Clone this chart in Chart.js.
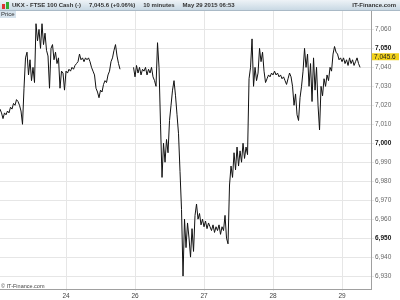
<!DOCTYPE html>
<html>
<head>
<meta charset="utf-8">
<script src="https://cdn.jsdelivr.net/npm/chart.js@4"></script>
<style>
    body { margin: 0; background: #fff; }
    #wrap { position: relative; width: 400px; height: 300px; overflow: hidden; font-family: "Liberation Sans", Arial, sans-serif; }
    #entete {
        position: absolute; left: 0; top: 0; width: 400px; height: 10px;
        background: linear-gradient(#eef3f7, #c9d9e4); border-bottom: 1px solid #a9b9c6;
        font-size: 6px; font-weight: bold; color: #333; line-height: 10px; white-space: nowrap;
    }
    #entete .gauche { position: absolute; left: 12px; top: 0; }
    #entete .gauche span { margin-right: 8px; }
    #entete .droite { position: absolute; right: 4px; top: 0; }
    #icone { position: absolute; left: 2px; top: 2px; width: 8px; height: 7px; }
    #icone span { position: absolute; bottom: 0; width: 3px; }
    #prixBox {
        position: absolute; left: 0; top: 11px; height: 7px; padding: 0 1px;
        background: #d5e2ec; font-size: 6px; line-height: 7px; color: #333;
    }
    #copyright { position: absolute; left: 1px; top: 283px; font-size: 5.5px; color: #444; }
</style>
</head>
<body>
<div id="wrap">
    <canvas id="graficoPreco" width="400" height="300"></canvas>
    <div id="entete">
        <div id="icone"><span style="left:0;height:5px;background:#d33;"></span><span style="left:4px;height:7px;background:#3a3;"></span></div>
        <div class="gauche"><span>UKX - FTSE 100 Cash (-)</span><span>7,045.6 (+0.06%)</span><span>10 minutes</span><span>May 29 2015 06:53</span></div>
        <div class="droite">IT-Finance.com</div>
    </div>
    <div id="prixBox">Price</div>
    <div id="copyright">© IT-Finance.com</div>
</div>
<script>
// 10-minute closes, sampled evenly; null = market closed
const precos = [
    7018, 7016, 7013, 7016, 7015, 7017, 7016, 7019, 7018, 7021,
    7020, 7023, 7022, 7020, 7017, 7010, 7029, 7045, 7048, 7036,
    7044, 7033, 7040, 7032, 7063, 7054, 7060, 7050, 7063, 7052,
    7058, 7049, 7046, 7029, 7050, 7052, 7044, 7048, 7042, 7045,
    7029, 7038, 7037, 7028, 7038, 7037, 7039, 7038, 7040, 7039,
    7041, 7042, 7043, 7047, 7044, 7045, 7043, 7045, 7044, 7045,
    7043, 7040, 7038, 7036, 7029, 7027, 7024, 7028, 7027, 7031,
    7033, 7032, 7036, 7038, 7043, 7045, 7049, 7052, 7046, 7042,
    7039, null, null, null, null, null, null, null, null, 7040,
    7035, 7041, 7037, 7040, 7036, 7039, 7038, 7040, 7036, 7039,
    7037, 7040, 7035, 7033, 7030, 7053, 7040, 7010, 6982, 7000,
    6990, 7002, 6995, 7012, 7020, 7028, 7033, 7025, 7015, 7005,
    6985, 6965, 6930, 6960, 6945, 6958, 6950, 6940, 6955, 6943,
    6962, 6968, 6960, 6963, 6957, 6960, 6956, 6959, 6955, 6958,
    6956, 6954, 6957, 6953, 6956, 6954, 6957, 6952, 6956, 6954,
    6962, 6950, 6947, 6978, 6988, 6982, 6995, 6986, 6998, 6988,
    6996, 6990, 7000, 6992, 6998, 6994, 7034, 7040, 7055, 7030,
    7040, 7033, 7037, 7050, 7043, 7048, 7038, 7032, 7034, 7036,
    7035, 7037, 7036, 7038, 7036, 7037, 7035, 7036, 7034, 7035,
    7033, 7031, 7034, 7037, 7035, 7030, 7020, 7026, 7015, 7012,
    7024, 7030, 7038, 7050, 7040, 7047, 7030, 7042, 7022, 7045,
    7028, 7040, 7020, 7007, 7030, 7025, 7034, 7030, 7036, 7033,
    7040, 7038, 7047, 7051, 7048, 7047, 7044, 7045, 7043, 7045,
    7042, 7044, 7041, 7045, 7042, 7044, 7041, 7043, 7045, 7042,
    7040
];

// index of the first bar of each session and its label
const inicioDias = [44, 90, 136, 182, 228];
const rotulosDias = ['24', '26', '27', '28', '29'];

const ultimoPreco = 7045.6;
const yMin = 6923.2;
const yMax = 7069.7;
const xMax = 247.3;

const pontos = precos.map((p, i) => ({ x: i, y: p }));

const redondo = c => c.tick && c.tick.value % 50 === 0;

// etiqueta amarela do último preço
const etiquetaPreco = {
    id: 'etiquetaPreco',
    afterDraw(chart) {
        const ctx = chart.ctx;
        const y = chart.scales.y.getPixelForValue(ultimoPreco);
        const x = chart.chartArea.right + 1;
        ctx.save();
        ctx.fillStyle = '#f2d21a';
        ctx.fillRect(x, y - 3.5, 27, 7);
        ctx.fillStyle = '#222';
        ctx.font = '6.5px "Liberation Sans", Arial, sans-serif';
        ctx.textBaseline = 'middle';
        ctx.fillText('7,045.6', x + 2, y + 0.5);
        ctx.restore();
    }
};

const ctx = document.getElementById('graficoPreco').getContext('2d');
const grafico = new Chart(ctx, {
    type: 'line',
    data: {
        datasets: [{
            data: pontos,
            borderColor: '#111',
            borderWidth: 1,
            pointRadius: 0,
            tension: 0,
            spanGaps: false
        }]
    },
    options: {
        responsive: false,
        animation: false,
        layout: { padding: { top: 11, left: 0, right: 0, bottom: 0 } },
        plugins: { legend: { display: false }, tooltip: { enabled: false } },
        scales: {
            x: {
                type: 'linear',
                min: 0,
                max: xMax,
                afterBuildTicks: axis => { axis.ticks = inicioDias.map(v => ({ value: v })); },
                afterFit: axis => { axis.height = 11; },
                grid: { color: '#e6e6e6', tickLength: 2 },
                border: { color: '#a0a0a0' },
                ticks: {
                    autoSkip: false,
                    maxRotation: 0,
                    padding: 1,
                    color: '#444',
                    font: { size: 6.5, family: '"Liberation Sans", Arial, sans-serif' },
                    callback: v => rotulosDias[inicioDias.indexOf(v)] ?? ''
                }
            },
            y: {
                position: 'right',
                min: yMin,
                max: yMax,
                afterFit: axis => { axis.width = 29; },
                afterBuildTicks: axis => {
                    const t = [];
                    for (let v = 6930; v <= 7060; v += 10) t.push({ value: v });
                    axis.ticks = t;
                },
                grid: { color: '#e6e6e6', tickLength: 3 },
                border: { color: '#a0a0a0' },
                ticks: {
                    padding: 1,
                    color: c => redondo(c) ? '#111' : '#666',
                    font: c => ({
                        size: 6.5,
                        family: '"Liberation Sans", Arial, sans-serif',
                        weight: redondo(c) ? 'bold' : 'normal'
                    }),
                    callback: v => v.toLocaleString('en-US')
                }
            }
        }
    },
    plugins: [etiquetaPreco]
});
</script>
</body>
</html>
